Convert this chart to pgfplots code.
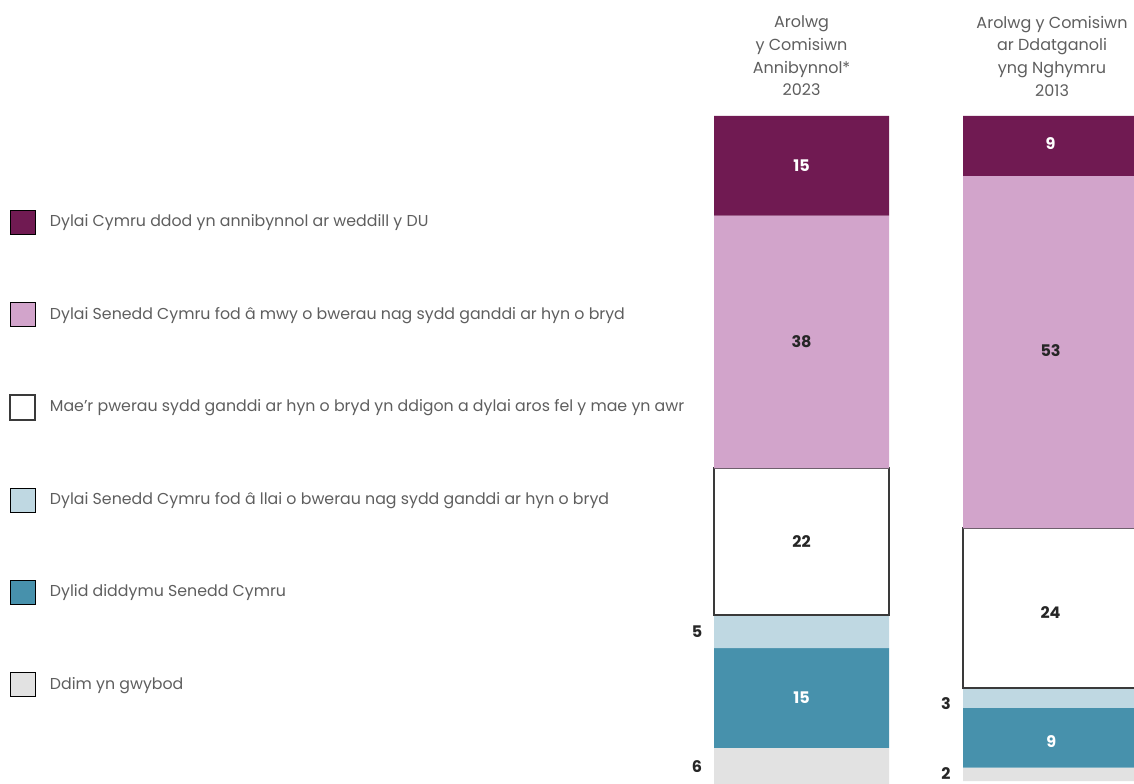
\documentclass[border=0pt]{standalone}
\usepackage{pgfplots}
\pgfplotsset{compat=1.18}
\usepackage{fontspec}
\setmainfont{Poppins}
\definecolor{cDark}{HTML}{701A52}
\definecolor{cPink}{HTML}{D2A4CB}
\definecolor{cLight}{HTML}{BFD8E2}
\definecolor{cTeal}{HTML}{4791AC}
\definecolor{cGrey}{HTML}{E2E2E2}
\definecolor{cText}{HTML}{5E5E5E}
\definecolor{cNum}{HTML}{262626}
\definecolor{cEdge}{HTML}{3A3A3A}
\pgfplotsset{base/.style={
  scale only axis, width=567pt, height=391.5pt,
  xmin=-3.2189, xmax=1.3353,
  ymin=-17.44, ymax=100.3,
  y dir=reverse,
  axis lines=none, ticks=none,
  clip=true}}
\begin{document}
\begin{tikzpicture}
\begin{axis}[base,
  ybar stacked, bar width=0.7028,
  legend cell align=left,
  legend image code/.code={\draw[#1] (0pt,-6.1pt) rectangle (12.3pt,6.1pt);},
  legend style={at={(0.0026,0.7378)}, anchor=north west, draw=none, fill=none,
    row sep=33.5pt, column sep=7pt,
    nodes={inner sep=0pt, text=cText, font=\fontsize{7.9}{9}\selectfont}},
]
\addplot[fill=cDark, draw=none] coordinates {(0,15) (1,9)};
\addplot[fill=cPink, draw=none] coordinates {(0,38) (1,53)};
\addplot[fill=white, draw=cEdge, line width=1pt] coordinates {(0,22) (1,24)};
\addplot[fill=cLight, draw=none] coordinates {(0,5) (1,3)};
\addplot[fill=cTeal, draw=none] coordinates {(0,15) (1,9)};
\addplot[fill=cGrey, draw=none] coordinates {(0,6) (1,2)};
\legend{Dylai Cymru ddod yn annibynnol ar weddill y DU,
Dylai Senedd Cymru fod â mwy o bwerau nag sydd ganddi ar hyn o bryd,
Mae'r pwerau sydd ganddi ar hyn o bryd yn ddigon a dylai aros fel y mae yn awr,
Dylai Senedd Cymru fod â llai o bwerau nag sydd ganddi ar hyn o bryd,
Dylid diddymu Senedd Cymru,
Ddim yn gwybod}
\end{axis}
\begin{axis}[base]
% value labels
\node[text=white, font=\fontsize{8}{9}\selectfont\bfseries] at (axis cs:0,7.5) {15};
\node[text=cNum, font=\fontsize{8}{9}\selectfont\bfseries] at (axis cs:0,34) {38};
\node[text=cNum, font=\fontsize{8}{9}\selectfont\bfseries] at (axis cs:0,64) {22};
\node[text=cNum, font=\fontsize{8}{9}\selectfont\bfseries] at (axis cs:-0.42,77.5) {5};
\node[text=white, font=\fontsize{8}{9}\selectfont\bfseries] at (axis cs:0,87.5) {15};
\node[text=cNum, font=\fontsize{8}{9}\selectfont\bfseries] at (axis cs:-0.42,97.8) {6};
\node[text=white, font=\fontsize{8}{9}\selectfont\bfseries] at (axis cs:1,4.1) {9};
\node[text=cNum, font=\fontsize{8}{9}\selectfont\bfseries] at (axis cs:1,35.3) {53};
\node[text=cNum, font=\fontsize{8}{9}\selectfont\bfseries] at (axis cs:1,74.7) {24};
\node[text=cNum, font=\fontsize{8}{9}\selectfont\bfseries] at (axis cs:0.58,88.3) {3};
\node[text=white, font=\fontsize{8}{9}\selectfont\bfseries] at (axis cs:1.003,94.1) {9};
\node[text=cNum, font=\fontsize{8}{9}\selectfont\bfseries] at (axis cs:0.58,98.8) {2};
% column headers
\node[align=center, text=cText, font=\fontsize{8}{11.35}\selectfont] at (axis cs:0,-9.02) {Arolwg\\y Comisiwn\\Annibynnol*\\2023};
\node[align=center, text=cText, font=\fontsize{8}{11.35}\selectfont] at (axis cs:1.006,-9.02) {Arolwg y Comisiwn\\ar Ddatganoli\\yng Nghymru\\2013};
\end{axis}
\pgfresetboundingbox
\useasboundingbox (current axis.south west) rectangle (current axis.north east);
\end{tikzpicture}
\end{document}
